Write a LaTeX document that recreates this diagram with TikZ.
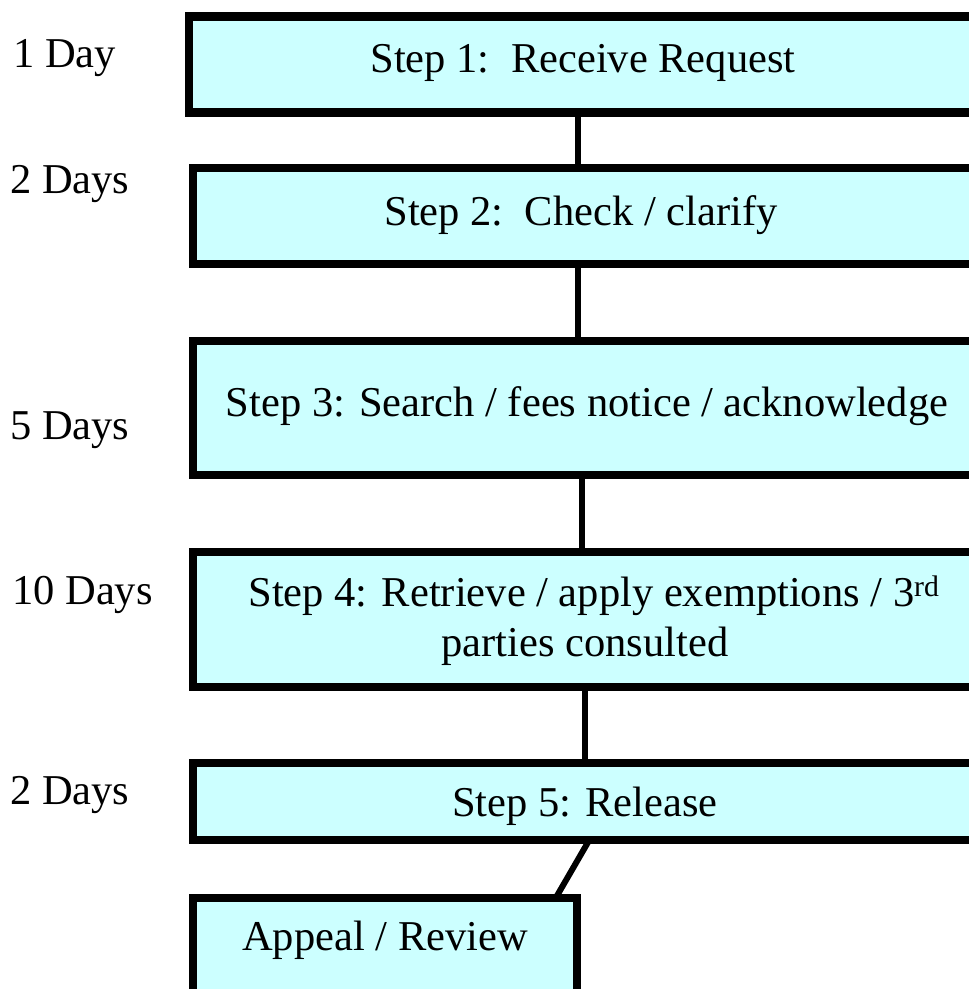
\documentclass[tikz,border=0pt]{standalone}
\usepackage{fontspec}
\setmainfont{Liberation Serif}
\definecolor{boxfill}{HTML}{CCFFFF}
\begin{document}
\begin{tikzpicture}[x=1pt,y=-1pt,
  stepbox/.style={draw=black, line width=8.5pt, fill=boxfill, rectangle, inner sep=0pt, outer sep=0pt},
  txt/.style={font=\fontsize{42.5}{50}\selectfont, inner sep=0pt, anchor=base},
  daylabel/.style={font=\fontsize{42.5}{50}\selectfont, inner sep=0pt, anchor=base west},
  link/.style={line width=6pt}]
\clip (0,0) rectangle (969,989);
\fill[white] (0,0) rectangle (969,989);
% boxes
\node[stepbox, minimum width=911pt, minimum height=96pt]  (box1) at (644.5,64.5) {};
\node[stepbox, minimum width=907pt, minimum height=96pt]  (box2) at (646.5,216) {};
\node[stepbox, minimum width=907pt, minimum height=134pt] (box3) at (646.5,408) {};
\node[stepbox, minimum width=907pt, minimum height=135pt] (box4) at (646.5,619.5) {};
\node[stepbox, minimum width=907pt, minimum height=77pt]  (box5) at (646.5,801.5) {};
\node[stepbox, minimum width=384pt, minimum height=122pt] (appeal) at (385,959) {};
% connector x positions
\coordinate (c1) at (578,0);
\coordinate (c2) at (578,0);
\coordinate (c3) at (582,0);
\coordinate (c4) at (584.5,0);
\coordinate (s1) at (589.3,0);
\coordinate (s2) at (555.7,0);
\draw[link] (box1.south -| c1) -- (box2.north -| c1);
\draw[link] (box2.south -| c2) -- (box3.north -| c2);
\draw[link] (box3.south -| c3) -- (box4.north -| c3);
\draw[link] (box4.south -| c4) -- (box5.north -| c4);
\draw[link] (box5.south -| s1) -- (appeal.north -| s2);
% box texts
\node[txt] (t1) at (583,72) {Step 1:\ \ Receive Request};
\node[txt] (t2) at (581,225) {Step 2:\ \ Check / clarify};
\node[txt] (t3) at (587,416) {Step 3: Search / fees notice / acknowledge};
\node[txt] (t4a) at (594,606) {Step 4: Retrieve / apply exemptions / 3\textsuperscript{rd}};
\node[txt] (t4b) at (585,656) {parties consulted};
\node[txt] (t5) at (585,816) {Step 5: Release};
\node[txt] (t6) at (385,950) {Appeal / Review};
% day labels
\node[daylabel] (d1) at (13,67) {1 Day};
\node[daylabel] (d2) at (10,193) {2 Days};
\node[daylabel] (d3) at (10,439) {5 Days};
\node[daylabel] (d4) at (12,604) {10 Days};
\node[daylabel] (d5) at (10,804) {2 Days};
\end{tikzpicture}
\end{document}
